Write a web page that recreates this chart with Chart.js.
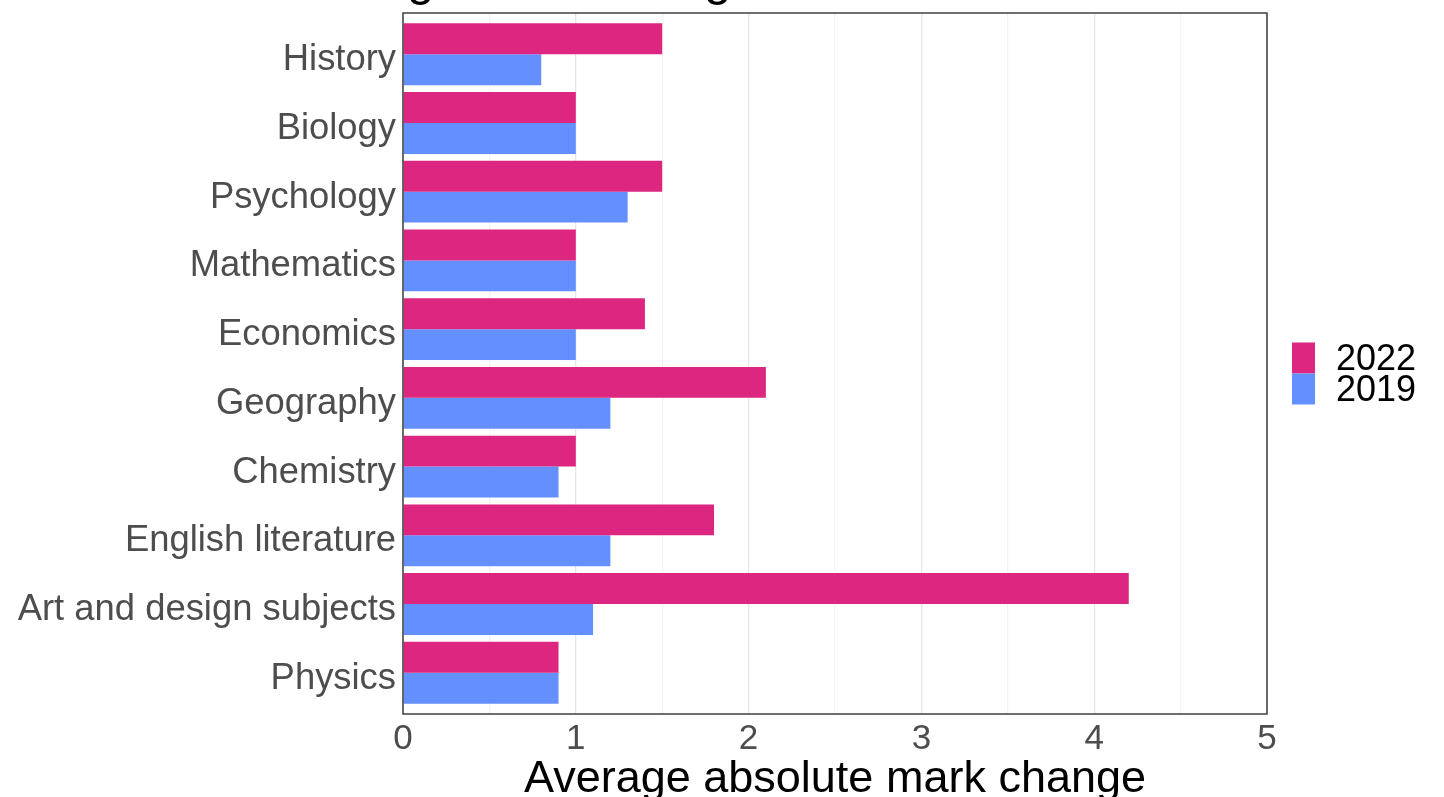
<!DOCTYPE html>
<html><head><meta charset="utf-8">
<script src="https://cdn.jsdelivr.net/npm/chart.js@4/dist/chart.umd.min.js"></script>
<style>html,body{margin:0;padding:0;background:#fff}canvas{display:block}</style>
</head><body>
<canvas id="c" width="1444" height="797"></canvas>
<script>
const subjects = ['History','Biology','Psychology','Mathematics','Economics','Geography','Chemistry','English literature','Art and design subjects','Physics'];
const values2022 = [1.5, 1.0, 1.5, 1.0, 1.4, 2.1, 1.0, 1.8, 4.2, 0.9];
const values2019 = [0.8, 1.0, 1.3, 1.0, 1.0, 1.2, 0.9, 1.2, 1.1, 0.9];
const seriesLabels = ['2022', '2019'];
const seriesColors = ['#DC267F', '#648FFF'];
const xTicks = [0, 1, 2, 3, 4, 5];
const titleText = 'Average mark change in 2022 vs 2019';
const xTitle = 'Average absolute mark change';

const FONT = "'Liberation Sans', Arial, Helvetica, sans-serif";

const panelBorder = {
  id: 'panelBorder',
  afterDatasetsDraw(chart) {
    const {ctx, chartArea: a} = chart;
    ctx.save();
    ctx.strokeStyle = '#333333';
    ctx.lineWidth = 1.4;
    ctx.strokeRect(a.left, a.top, a.right - a.left, a.bottom - a.top);
    ctx.restore();
  }
};
const topTitle = {
  id: 'topTitle',
  afterDraw(chart) {
    const {ctx} = chart;
    ctx.save();
    ctx.fillStyle = '#000';
    ctx.font = '49px ' + FONT;
    ctx.textAlign = 'left';
    ctx.textBaseline = 'alphabetic';
    ctx.fillText(titleText, 280, -5);
    ctx.restore();
  }
};
// legend drawn from the chart's own datasets (labels and colours)
const sideLegend = {
  id: 'sideLegend',
  afterDraw(chart) {
    const {ctx, chartArea: a} = chart;
    const ds = chart.data.datasets;
    const boxW = 23, boxH = 31;
    const x0 = a.right + 25;
    const yMid = (a.top + a.bottom) / 2 + 10;
    const y0 = yMid - ds.length * boxH / 2;
    ctx.save();
    ctx.font = '36px ' + FONT;
    ctx.textAlign = 'left';
    ctx.textBaseline = 'middle';
    ds.forEach((d, i) => {
      const y = y0 + i * boxH;
      ctx.fillStyle = d.backgroundColor;
      ctx.fillRect(x0, y, boxW, boxH);
      ctx.fillStyle = '#000';
      ctx.fillText(d.label, x0 + boxW + 21, y + boxH / 2 + 2);
    });
    ctx.restore();
  }
};

const datasets = [values2022, values2019].map((vals, k) => ({
  label: seriesLabels[k],
  data: subjects.map((s, i) => ({x: vals[i], y: i})),
  backgroundColor: seriesColors[k],
  borderWidth: 0,
  categoryPercentage: 0.9,
  barPercentage: 1.0
}));

new Chart(document.getElementById('c'), {
  type: 'bar',
  data: {datasets},
  plugins: [panelBorder, topTitle, sideLegend],
  options: {
    indexAxis: 'y',
    responsive: false,
    devicePixelRatio: 1,
    animation: false,
    layout: {padding: {top: 13, right: 177, bottom: 0, left: 0}},
    scales: {
      x: {
        type: 'linear', min: 0, max: 5, offset: false,
        afterBuildTicks(s) {
          const t = [];
          for (let v = 0; v <= 5; v += 0.5) t.push({value: v});
          s.ticks = t;
        },
        ticks: {
          callback: v => xTicks.includes(v) ? String(v) : '',
          color: '#4d4d4d',
          font: {family: FONT, size: 35},
          padding: 4,
          maxRotation: 0,
          autoSkip: false
        },
        grid: {
          offset: false,
          drawTicks: false,
          color: c => (c.tick && Number.isInteger(c.tick.value)) ? '#e6e6e6' : '#f3f3f3',
          lineWidth: 1.3
        },
        border: {display: false},
        title: {
          display: true, text: xTitle, color: '#000',
          font: {family: FONT, size: 45},
          padding: {top: 0, bottom: -10}
        },
        afterFit(s) { s.height = 83; s.paddingLeft = 0; s.paddingRight = 0; }
      },
      y: {
        type: 'linear', min: -0.6, max: 9.6, reverse: true, offset: false,
        afterBuildTicks(s) { s.ticks = subjects.map((_, i) => ({value: i})); },
        ticks: {
          callback: v => subjects[v] ?? '',
          color: '#4d4d4d',
          font: {family: FONT, size: 36.4},
          padding: 7,
          labelOffset: 6,
          autoSkip: false
        },
        grid: {display: false, drawTicks: false, offset: false},
        border: {display: false},
        afterFit(s) { s.width = 403; s.paddingTop = 0; s.paddingBottom = 0; }
      }
    },
    plugins: {
      legend: {display: false},
      tooltip: {enabled: false}
    }
  }
});
</script>
</body></html>
